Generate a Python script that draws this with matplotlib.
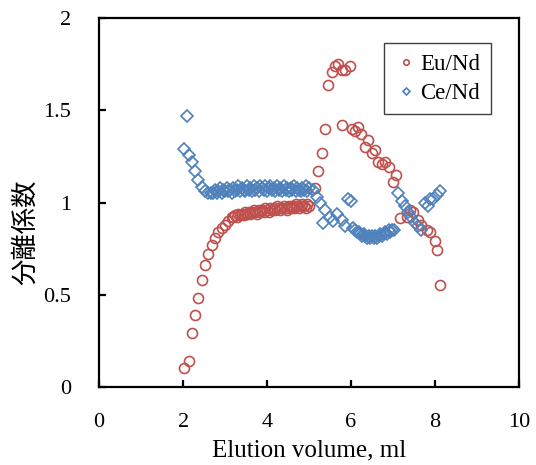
import matplotlib
matplotlib.use("Agg")
import matplotlib.pyplot as plt

# ---------------- DATA ----------------
eu_x = [2.01, 2.13, 2.21, 2.29, 2.36, 2.44, 2.52, 2.60, 2.68, 2.76,
        2.84, 2.92, 3.00, 3.08, 3.16,
        3.20, 3.24, 3.28, 3.32, 3.36, 3.40, 3.44, 3.48, 3.52, 3.56,
        3.60, 3.64, 3.68, 3.72, 3.76, 3.80, 3.84, 3.88, 3.92, 3.96,
        4.00, 4.04, 4.08, 4.12, 4.16, 4.20, 4.24, 4.28, 4.32, 4.36,
        4.40, 4.44, 4.48, 4.52, 4.56, 4.60, 4.64, 4.68, 4.72, 4.76,
        4.80, 4.84, 4.88, 4.92, 4.96, 5.00,
        5.14, 5.22, 5.30, 5.38, 5.46, 5.54, 5.62, 5.70, 5.78, 5.86,
        5.98, 5.79, 6.02, 6.10, 6.17, 6.25, 6.33, 6.41, 6.49, 6.57,
        6.65, 6.75, 6.81, 6.91, 6.99, 7.07, 7.17, 7.33, 7.40, 7.48,
        7.60, 7.68, 7.80, 7.88, 8.00, 8.04, 8.12]
eu_y = [0.10, 0.14, 0.29, 0.39, 0.48, 0.58, 0.66, 0.72, 0.77, 0.81,
        0.84, 0.86, 0.88, 0.90, 0.92,
        0.92, 0.93, 0.92, 0.94, 0.93, 0.94, 0.93, 0.95, 0.94, 0.95,
        0.94, 0.95, 0.96, 0.95, 0.94, 0.96, 0.95, 0.96, 0.95, 0.97,
        0.96, 0.95, 0.97, 0.96, 0.97, 0.96, 0.98, 0.97, 0.96, 0.97,
        0.98, 0.97, 0.96, 0.98, 0.97, 0.98, 0.97, 0.99, 0.98, 0.97,
        0.98, 0.99, 0.98, 0.97, 0.99, 0.98,
        1.08, 1.17, 1.27, 1.40, 1.64, 1.71, 1.74, 1.75, 1.72, 1.72,
        1.74, 1.42, 1.40, 1.39, 1.41, 1.37, 1.30, 1.34, 1.27, 1.285,
        1.22, 1.21, 1.22, 1.19, 1.11, 1.15, 0.915, 0.92, 0.96, 0.95,
        0.905, 0.88, 0.85, 0.84, 0.79, 0.74, 0.55]

ce_x = [2.01, 2.09, 2.14, 2.21, 2.29, 2.36, 2.44, 2.52, 2.60, 2.66,
        2.72, 2.76, 2.80, 2.84, 2.88, 2.92, 2.96, 3.00, 3.04, 3.08,
        3.12, 3.16, 3.20, 3.24, 3.28, 3.32, 3.36, 3.40, 3.44, 3.48,
        3.52, 3.56, 3.60, 3.64, 3.68, 3.72, 3.76, 3.80, 3.84, 3.88,
        3.92, 3.96, 4.00, 4.04, 4.08, 4.12, 4.16, 4.20, 4.24, 4.28,
        4.32, 4.36, 4.40, 4.44, 4.48, 4.52, 4.56, 4.60, 4.64, 4.68,
        4.72, 4.76, 4.80, 4.84, 4.88, 4.92, 4.96, 5.00,
        5.10, 5.18, 5.26, 5.34, 5.38, 5.50, 5.58, 5.66, 5.78, 5.86,
        5.94, 6.00,
        6.06, 6.10, 6.14, 6.18, 6.22, 6.26, 6.30, 6.34, 6.38, 6.42,
        6.46, 6.50, 6.54, 6.58, 6.62, 6.66, 6.70, 6.74, 6.78, 6.82,
        6.86, 6.90, 6.94, 6.98, 7.02,
        7.13, 7.21, 7.29, 7.37, 7.44, 7.52, 7.60, 7.68, 7.76, 7.84,
        7.88, 7.96, 8.04, 8.12]
ce_y = [1.29, 1.47, 1.26, 1.22, 1.17, 1.12, 1.085, 1.06, 1.05, 1.05,
        1.05, 1.07, 1.05, 1.06, 1.08, 1.05, 1.07, 1.06, 1.08, 1.06,
        1.07, 1.05, 1.08, 1.06, 1.07, 1.09, 1.06, 1.08, 1.07, 1.06,
        1.09, 1.07, 1.08, 1.06, 1.09, 1.07, 1.08, 1.06, 1.09, 1.08,
        1.07, 1.09, 1.06, 1.08, 1.09, 1.07, 1.08, 1.06, 1.09, 1.07,
        1.08, 1.06, 1.09, 1.07, 1.08, 1.06, 1.08, 1.07, 1.09, 1.06,
        1.08, 1.07, 1.06, 1.08, 1.07, 1.09, 1.06, 1.08,
        1.07, 1.03, 0.995, 0.89, 0.96, 0.92, 0.90, 0.94, 0.905, 0.87,
        1.02, 1.01,
        0.86, 0.85, 0.84, 0.84, 0.83, 0.82, 0.83, 0.82, 0.81, 0.82,
        0.81, 0.82, 0.81, 0.82, 0.81, 0.82, 0.83, 0.82, 0.83, 0.84,
        0.83, 0.85, 0.84, 0.85, 0.85,
        1.05, 1.01, 0.98, 0.95, 0.92, 0.89, 0.87, 0.85, 1.00, 0.98,
        1.02, 1.02, 1.04, 1.06]

EU_COLOR = "#C0504D"
CE_COLOR = "#4F81BD"

# ---------------- PLOT ----------------
plt.rcParams["font.family"] = ["Liberation Serif", "DejaVu Serif"]

fig = plt.figure(figsize=(5.36, 4.65), dpi=100)
ax = fig.add_axes([0.185, 0.168, 0.783, 0.793])

ax.plot(eu_x, eu_y, linestyle="none", marker="o", markersize=7.2,
        markerfacecolor="none", markeredgecolor=EU_COLOR,
        markeredgewidth=1.2, label="Eu/Nd")
ax.plot(ce_x, ce_y, linestyle="none", marker="D", markersize=6.5,
        markerfacecolor="none", markeredgecolor=CE_COLOR,
        markeredgewidth=1.2, label="Ce/Nd")

ax.set_xlim(0, 10)
ax.set_ylim(0, 2)
ax.set_xticks([0, 2, 4, 6, 8, 10])
ax.set_yticks([0, 0.5, 1, 1.5, 2])
ax.set_yticklabels(["0", "0.5", "1", "1.5", "2"])

for s in ax.spines.values():
    s.set_linewidth(1.6)
ax.tick_params(direction="in", length=5, width=1.6, labelsize=16,
               top=False, right=False)
ax.tick_params(axis="x", pad=19)
ax.tick_params(axis="y", pad=20)

ax.set_xlabel("Elution volume, ml", fontsize=18, labelpad=5)
ax.set_ylabel("分離係数", fontsize=19, family=["Noto Sans CJK JP"])
ax.yaxis.set_label_coords(-0.142, 0.42)

leg = ax.legend(loc="upper right", bbox_to_anchor=(0.933, 0.932),
                borderaxespad=0, fontsize=16.5, markerscale=0.55,
                handletextpad=0.15, handlelength=1.0, borderpad=0.45,
                labelspacing=0.35, fancybox=False, framealpha=1,
                edgecolor="#404040")
leg.get_frame().set_linewidth(1.0)

fig.savefig("out.png", dpi=100)
